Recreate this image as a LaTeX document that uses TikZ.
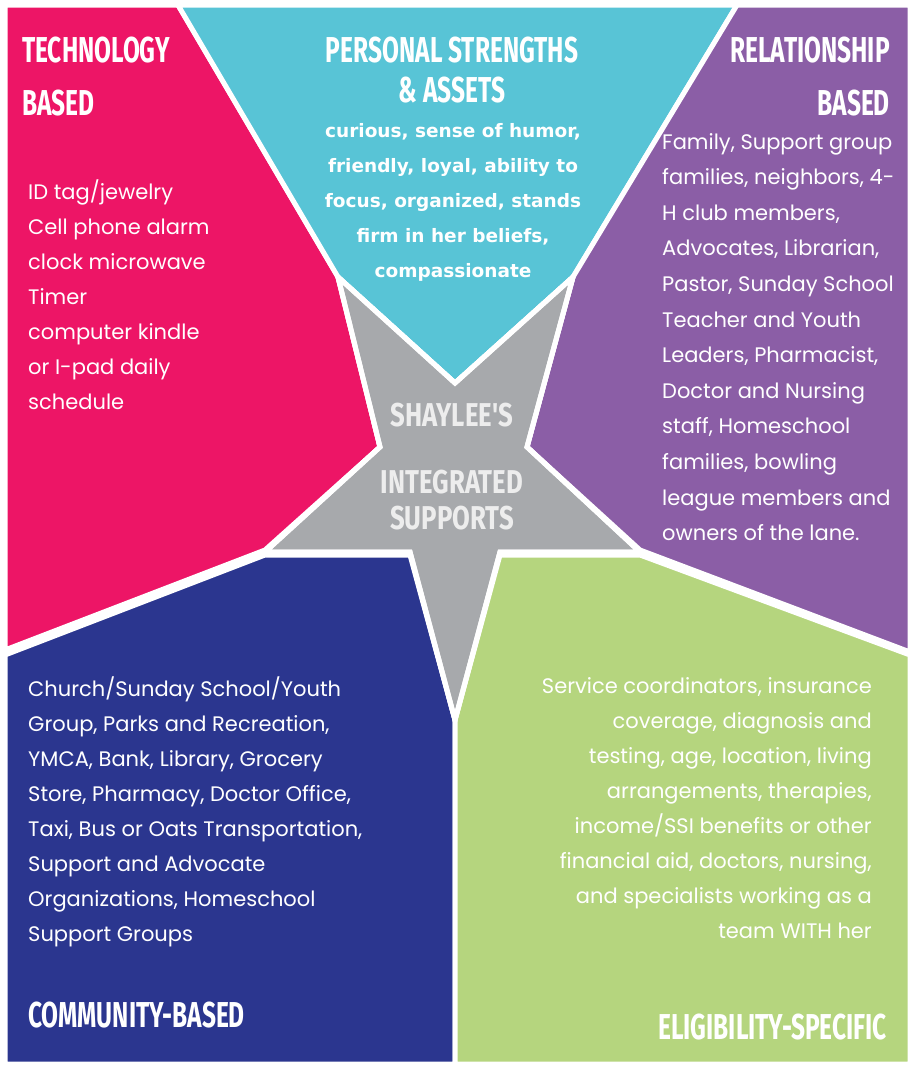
\documentclass[tikz,border=0pt]{standalone}
\usepackage{fontspec}
\setmainfont{Poppins}
\newfontfamily\cond[FakeStretch=0.68]{Fira Sans}
\newfontfamily\condb[FakeStretch=0.78]{Fira Sans}
\newfontfamily\boldf{DejaVu Sans}
\definecolor{cpink}{HTML}{ED1566}
\definecolor{ccyan}{HTML}{58C4D6}
\definecolor{cpurple}{HTML}{8B5EA6}
\definecolor{cnavy}{HTML}{2B368F}
\definecolor{cgreen}{HTML}{B5D57E}
\definecolor{cgray}{HTML}{A7A9AC}
\begin{document}
\begin{tikzpicture}[x=1pt,y=-1pt,
  region/.style={draw=white,line width=5pt,line join=miter},
  title/.style={text=white,font=\cond\bfseries\fontsize{36}{52}\selectfont,inner sep=0pt},
  body/.style={text=white,font=\fontsize{21}{35}\selectfont,inner sep=0pt},
  cbody/.style={text=white,font=\boldf\bfseries\fontsize{18.5}{35}\selectfont,inner sep=0pt,align=center},
  star/.style={text=white!93!black,font=\condb\bfseries\fontsize{33}{36}\selectfont,inner sep=0pt,align=center}]
\useasboundingbox (0,0) rectangle (924,1069);
\fill[white] (0,0) rectangle (924,1069);
\fill[region,fill=cpink] (5,5) -- (178,5) -- (338,277) -- (380,447) -- (265,550) -- (5,650) -- cycle;
\fill[region,fill=ccyan] (178,5) -- (737,5) -- (573,277) -- (455,383) -- (338,277) -- cycle;
\fill[region,fill=cpurple] (737,5) -- (910,5) -- (910,652) -- (640,550) -- (527,447) -- (573,277) -- cycle;
\fill[region,fill=cnavy] (5,655) -- (265,555) -- (410,555) -- (455,720) -- (455,1064) -- (5,1064) -- cycle;
\fill[region,fill=cgreen] (500,555) -- (640,555) -- (910,655) -- (910,1064) -- (455,1064) -- (455,720) -- cycle;
\fill[region,fill=cgray] (455,383) -- (338,277) -- (380,447) -- (265,552) -- (410,552) -- (455,720) -- (500,552) -- (640,552) -- (527,447) -- (573,277) -- cycle;
\path[draw=white,line width=5pt] (455,383) -- (338,277) -- (380,447) -- (265,552) -- (410,552) -- (455,720) -- (500,552) -- (640,552) -- (527,447) -- (573,277) -- cycle;

\node[title,anchor=base west] (tt1) at (22,62) {TECHNOLOGY};
\node[title,anchor=base west] (tt2) at (22,115) {BASED};
\node[body,anchor=north west,align=left] (tb) at (28,180) {ID tag/jewelry\\Cell phone alarm\\clock microwave\\Timer\\computer kindle\\or I-pad daily\\schedule};
\node[title,anchor=base] (pt1) at (452,62) {PERSONAL STRENGTHS};
\node[title,anchor=base] (pt2) at (452,102) {\&\,ASSETS};
\node[cbody,anchor=north] (pb) at (453,123) {curious, sense of humor,\\friendly, loyal, ability to\\focus, organized, stands\\firm in her beliefs,\\compassionate};
\node[title,anchor=base east] (rt1) at (890,62) {RELATIONSHIP};
\node[title,anchor=base east] (rt2) at (890,115) {BASED};
\node[body,anchor=north west,align=left,font=\fontsize{21}{35.6}\selectfont] (rb) at (662,133) {Family, Support group\\families, neighbors, 4-\\H club members,\\Advocates, Librarian,\\Pastor, Sunday School\\Teacher and Youth\\Leaders, Pharmacist,\\Doctor and Nursing\\staff, Homeschool\\families, bowling\\league members and\\owners of the lane.};
\node[star] (s1) at (452,415) {SHAYLEE'S};
\node[star] (s2) at (452,500) {INTEGRATED\\SUPPORTS};
\node[body,anchor=north west,align=left] (cb) at (28,677) {Church/Sunday School/Youth\\Group, Parks and Recreation,\\YMCA, Bank, Library, Grocery\\Store, Pharmacy, Doctor Office,\\Taxi, Bus or Oats Transportation,\\Support and Advocate\\Organizations, Homeschool\\Support Groups};
\node[title,anchor=west] (ct) at (28,1015) {COMMUNITY-BASED};
\node[body,anchor=north east,align=right] (eb) at (872,677) {Service coordinators, insurance\\coverage, diagnosis and\\testing, age, location, living\\arrangements, therapies,\\income/SSI benefits or other\\financial aid, doctors, nursing,\\and specialists working as a\\team WITH her};
\node[title,anchor=east] (et) at (887,1027) {ELIGIBILITY-SPECIFIC};
\end{tikzpicture}
\end{document}
